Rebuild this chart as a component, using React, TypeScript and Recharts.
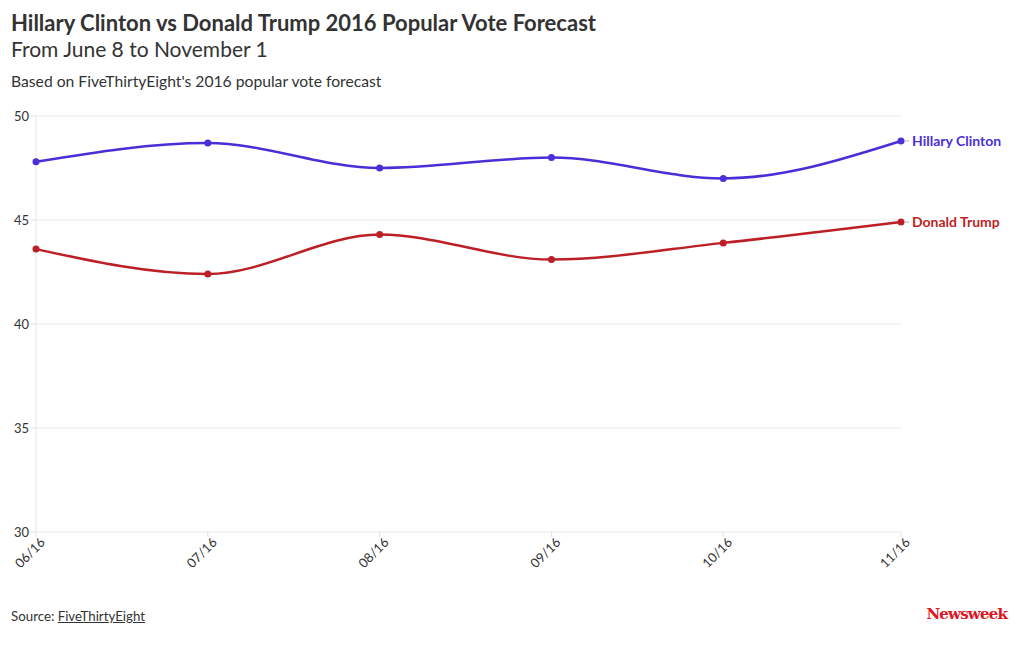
import { LineChart, Line, XAxis, YAxis, CartesianGrid } from "recharts";

const dates = ["2016-06-08", "2016-07-07", "2016-08-05", "2016-09-03", "2016-10-02", "2016-11-01"];
const tickLabels = ["06/16", "07/16", "08/16", "09/16", "10/16", "11/16"];
const clinton = [47.8, 48.7, 47.5, 48.0, 47.0, 48.8];
const trump = [43.6, 42.4, 44.3, 43.1, 43.9, 44.9];
const yTicks = [30, 35, 40, 45, 50];

const DAY = 86400000;
const start = new Date(dates[0]).getTime();
const days = dates.map((d) => Math.round((new Date(d).getTime() - start) / DAY));

const data = days.map((d, i) => ({
     day: d,
     label: tickLabels[i],
     clinton: clinton[i],
     trump: trump[i],
}));

const FONT = "Lato, 'Open Sans', sans-serif";
const BLUE = "#4a2ed8";
const RED = "#bd1f26";

const XTick = (props: any) => {
     const { x, y, payload } = props;
     const i = days.indexOf(payload.value);
     return (
          <g transform={`translate(${x},${y})`}>
               <text
                    x={0}
                    y={0}
                    dy={10}
                    dx={4}
                    textAnchor="end"
                    fill="#333"
                    fontSize={13}
                    fontFamily={FONT}
                    transform="rotate(-45)"
               >
                    {i >= 0 ? tickLabels[i] : ""}
               </text>
          </g>
     );
};

const endLabel = (name: string, color: string) => (props: any) => {
     const { x, y, index } = props;
     if (index !== data.length - 1) return null;
     return (
          <g>
               <line x1={x + 4} x2={x + 8} y1={y} y2={y} stroke="#aaa" strokeWidth={1} />
               <text x={x + 11} y={y} dy={5} fill={color} fontSize={14} fontWeight={700} fontFamily={FONT}>
                    {name}
               </text>
          </g>
     );
};

export default function App() {
     return (
          <div style={{ position: "absolute", left: 0, top: 0, width: 1020, height: 650, background: "#fff", fontFamily: FONT, color: "#333" }}>
               <div style={{ position: "absolute", left: 11, top: 9, fontSize: 22, fontWeight: 700, whiteSpace: "nowrap" }}>
                    Hillary Clinton vs Donald Trump 2016 Popular Vote Forecast
               </div>
               <div style={{ position: "absolute", left: 11, top: 36, fontSize: 21, whiteSpace: "nowrap" }}>
                    From June 8 to November 1
               </div>
               <div style={{ position: "absolute", left: 11, top: 72, fontSize: 15.7, whiteSpace: "nowrap" }}>
                    Based on FiveThirtyEight's 2016 popular vote forecast
               </div>
               <div style={{ position: "absolute", left: 0, top: 0 }}>
                    <LineChart width={1020} height={650} data={data} margin={{ top: 116, right: 119, bottom: 58, left: 10 }}>
                         <CartesianGrid vertical={false} stroke="#e8e8e8" />
                         <XAxis
                              dataKey="day"
                              type="number"
                              domain={[days[0], days[days.length - 1]]}
                              ticks={days}
                              tick={<XTick />}
                              tickLine={{ stroke: "#e0e0e0" }}
                              tickSize={5}
                              axisLine={false}
                              height={60}
                              interval={0}
                         />
                         <YAxis
                              domain={[30, 50]}
                              ticks={yTicks}
                              width={26}
                              tick={{ fill: "#333", fontSize: 13, fontFamily: FONT }}
                              tickLine={{ stroke: "#e0e0e0" }}
                              tickSize={5}
                              axisLine={{ stroke: "#e6e6e6" }}
                         />
                         <Line
                              type="monotoneX"
                              dataKey="clinton"
                              stroke={BLUE}
                              strokeWidth={2.5}
                              dot={{ r: 3.5, fill: BLUE, stroke: BLUE, strokeWidth: 0 }}
                              isAnimationActive={false}
                              label={endLabel("Hillary Clinton", BLUE)}
                         />
                         <Line
                              type="monotoneX"
                              dataKey="trump"
                              stroke={RED}
                              strokeWidth={2.5}
                              dot={{ r: 3.5, fill: RED, stroke: RED, strokeWidth: 0 }}
                              isAnimationActive={false}
                              label={endLabel("Donald Trump", RED)}
                         />
                    </LineChart>
               </div>
               <div style={{ position: "absolute", left: 11, top: 608, fontSize: 13.3, whiteSpace: "nowrap" }}>
                    Source: <span style={{ textDecoration: "underline" }}>FiveThirtyEight</span>
               </div>
               <div
                    style={{
                         position: "absolute",
                         right: 13,
                         top: 605,
                         fontSize: 15,
                         fontWeight: 700,
                         fontFamily: "'DejaVu Serif', 'Liberation Serif', serif",
                         color: "#e0141e",
                         letterSpacing: -0.8,
                    }}
               >
                    Newsweek
               </div>
          </div>
     );
}
